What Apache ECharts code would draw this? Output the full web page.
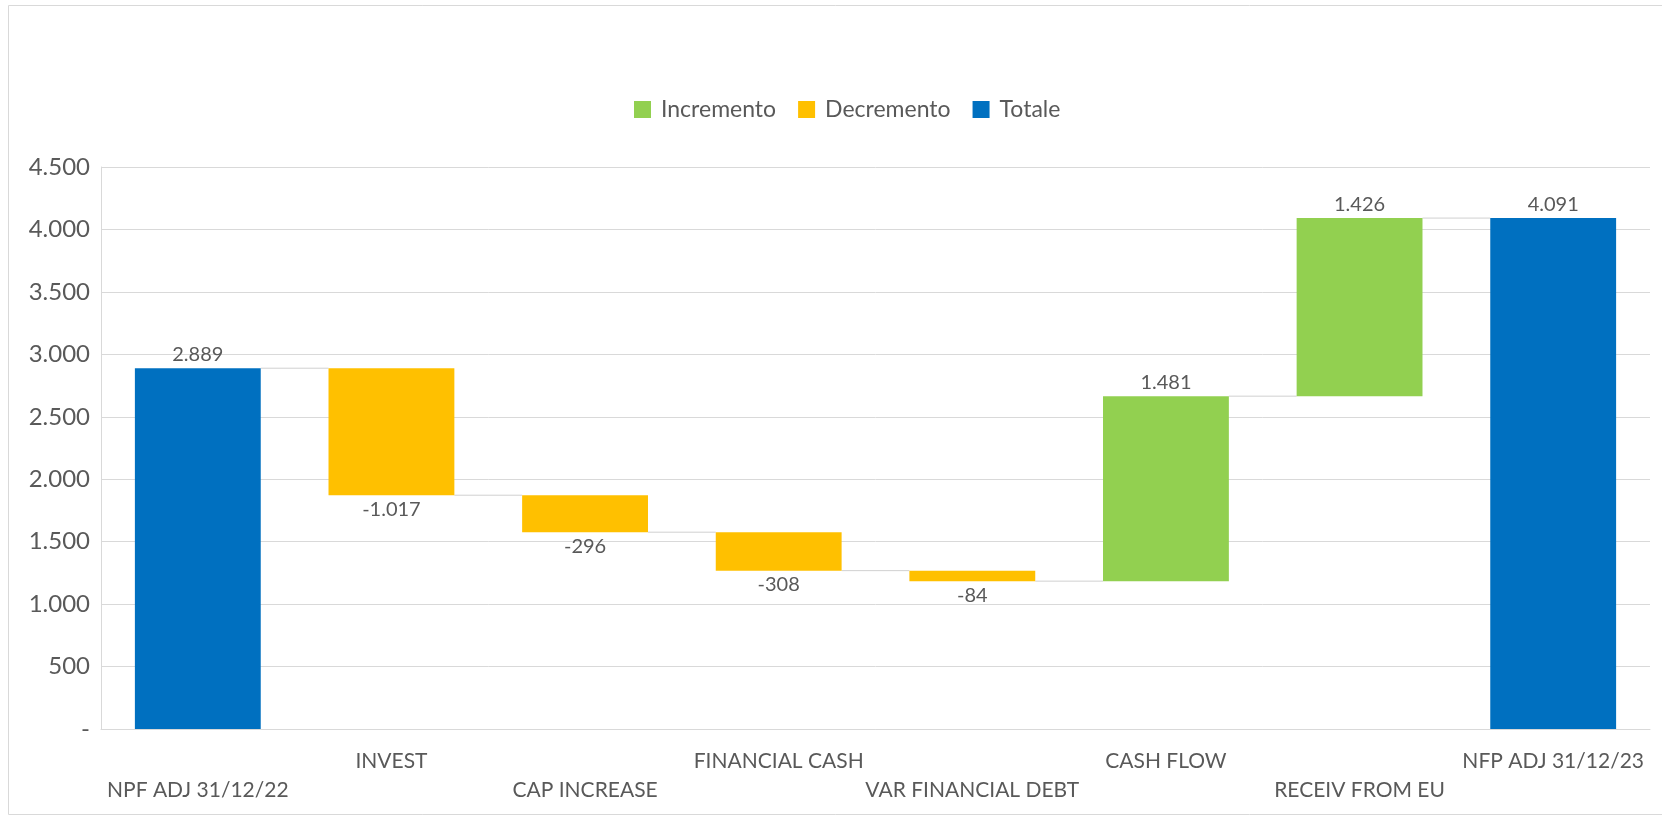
<!DOCTYPE html>
<html>
<head>
    <meta charset="UTF-8">
    <title>Waterfall NFP</title>
    <script src="https://cdn.jsdelivr.net/npm/echarts@6/dist/echarts.min.js"></script>
    <style>
        html, body { margin: 0; padding: 0; background: #fff; }
        #chart { width: 1662px; height: 816px; }
    </style>
</head>
<body>
<div id="chart"></div>
<script type="text/javascript">
    // data
    const categories = ['NPF ADJ 31/12/22', 'INVEST', 'CAP INCREASE', 'FINANCIAL CASH',
        'VAR FINANCIAL DEBT', 'CASH FLOW', 'RECEIV FROM EU', 'NFP ADJ 31/12/23'];
    const changes = [2889, -1017, -296, -308, -84, 1481, 1426, 4091];
    const isTotal = [true, false, false, false, false, false, false, true];
    const yTicks = { min: 0, max: 4500, interval: 500 };

    const grey = '#595959';
    const font = 'Lato';

    function fmt(n) {
        const s = String(Math.abs(n)).replace(/\B(?=(\d{3})+(?!\d))/g, '.');
        return n < 0 ? '-' + s : s;
    }

    // build stacked pieces
    let running = 0;
    const base = [], inc = [], dec = [], tot = [], levels = [];
    for (let i = 0; i < changes.length; i++) {
        const v = changes[i];
        if (isTotal[i]) {
            base.push(0); inc.push('-'); dec.push('-'); tot.push(v);
            running = v;
        } else if (v >= 0) {
            base.push(running); inc.push(v); dec.push('-'); tot.push('-');
            running += v;
        } else {
            running += v;
            base.push(running); inc.push('-'); dec.push(-v); tot.push('-');
        }
        levels.push(running);
    }
    const connectors = levels.slice(0, -1).map((l, i) => [i, l]);

    const chart = echarts.init(document.getElementById('chart'));
    const barW = '65%';
    const labelStyle = { color: grey, fontFamily: font, fontSize: 20 };

    const option = {
        animation: false,
        textStyle: { fontFamily: font },
        graphic: [{
            type: 'rect', silent: true,
            shape: { x: 8.5, y: 5.5, width: 1660, height: 809 },
            style: { fill: 'none', stroke: '#d9d9d9', lineWidth: 1 }
        }],
        legend: {
            data: ['Incremento', 'Decremento', 'Totale'],
            top: 93, left: 629,
            itemWidth: 17, itemHeight: 17, itemGap: 22,
            icon: 'rect',
            textStyle: { color: grey, fontFamily: font, fontSize: 23, padding: [0, 0, 0, 5] }
        },
        grid: { left: 101, right: 12, top: 167, bottom: 87 },
        xAxis: {
            type: 'category',
            data: categories,
            axisLine: { lineStyle: { color: '#d9d9d9' } },
            axisTick: { show: false },
            axisLabel: {
                interval: 0, margin: 18, color: grey, fontFamily: font, fontSize: 21, lineHeight: 29,
                formatter: (v, i) => (i % 2 === 0 ? '\n' + v : v)
            }
        },
        yAxis: {
            type: 'value',
            min: yTicks.min, max: yTicks.max, interval: yTicks.interval,
            axisLine: { show: true, lineStyle: { color: '#d9d9d9' } },
            splitLine: { lineStyle: { color: '#d9d9d9' } },
            axisLabel: {
                margin: 11, color: grey, fontFamily: font, fontSize: 24,
                formatter: v => (v === 0 ? '-' : fmt(v))
            }
        },
        series: [
            {
                name: 'base', type: 'bar', stack: 'w', barWidth: barW, data: base,
                itemStyle: { color: 'transparent' }, silent: true
            },
            {
                name: 'Incremento', type: 'bar', stack: 'w', barWidth: barW, data: inc,
                itemStyle: { color: '#92D050' },
                label: { show: true, position: 'top', distance: 4, ...labelStyle,
                    formatter: p => fmt(changes[p.dataIndex]) }
            },
            {
                name: 'Decremento', type: 'bar', stack: 'w', barWidth: barW, data: dec,
                itemStyle: { color: '#FFC000' },
                label: { show: true, position: 'bottom', distance: 4, ...labelStyle,
                    formatter: p => fmt(changes[p.dataIndex]) }
            },
            {
                name: 'Totale', type: 'bar', stack: 'w', barWidth: barW, data: tot,
                itemStyle: { color: '#0070C0' },
                label: { show: true, position: 'top', distance: 4, ...labelStyle,
                    formatter: p => fmt(changes[p.dataIndex]) }
            },
            {
                name: 'connector', type: 'custom', silent: true, z: 1,
                data: connectors,
                renderItem: function (params, api) {
                    const i = api.value(0), lvl = api.value(1);
                    const p1 = api.coord([i, lvl]);
                    const p2 = api.coord([i + 1, lvl]);
                    const half = api.size([1, 0])[0] * 0.325;
                    return {
                        type: 'line',
                        shape: { x1: p1[0] + half, y1: p1[1], x2: p2[0] - half, y2: p2[1] },
                        style: { stroke: '#d0d0d0', lineWidth: 1 }
                    };
                }
            }
        ]
    };
    chart.setOption(option);
</script>
</body>
</html>
